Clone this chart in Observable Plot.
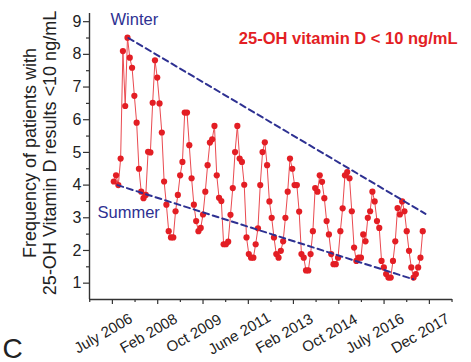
<!DOCTYPE html>
<html><head><meta charset="utf-8">
<script src="https://cdn.jsdelivr.net/npm/d3@7"></script>
<script src="https://cdn.jsdelivr.net/npm/@observablehq/plot@0.6"></script>
<style>
html,body{margin:0;padding:0;background:#fff;}
#chart{width:471px;height:362px;}
</style>
</head><body><div id="chart"></div>
<script>
// Monthly frequency of patients with 25-OH vitamin D < 10 ng/mL (index = month)
const values = [
  4.11, 4.30, 4.00, 4.81, 8.10, 6.42, 8.51, 7.90, 7.59, 6.73,
  5.91, 4.50, 3.80, 3.60, 3.70, 5.02, 5.00, 6.52, 7.82, 7.29,
  6.50, 5.61, 4.11, 3.40, 2.59, 2.40, 2.40, 3.20, 3.70, 4.30,
  4.71, 6.22, 6.22, 5.22, 4.21, 3.40, 2.90, 2.59, 2.69, 3.10,
  3.80, 4.61, 5.30, 5.40, 5.81, 4.30, 3.61, 3.51, 2.19, 2.19,
  2.27, 3.09, 3.91, 5.01, 5.81, 4.81, 4.71, 4.01, 2.40, 1.89,
  1.78, 1.78, 2.19, 2.68, 4.00, 5.01, 5.31, 4.61, 3.50, 3.00,
  2.40, 1.89, 1.78, 1.99, 2.28, 3.00, 3.80, 4.81, 4.50, 4.00,
  4.00, 3.19, 1.89, 1.78, 1.39, 1.39, 1.89, 2.59, 3.91, 3.80,
  4.30, 4.10, 3.60, 2.90, 2.49, 1.89, 1.58, 1.58, 1.78, 2.59,
  3.29, 4.30, 4.40, 4.21, 3.20, 2.09, 1.68, 1.78, 1.78, 2.49,
  2.28, 3.00, 3.20, 3.80, 3.50, 2.90, 2.69, 1.68, 1.48, 1.28,
  1.17, 1.17, 1.68, 2.28, 3.30, 3.10, 3.50, 3.20, 2.59, 1.99,
  1.48, 1.17, 1.28, 1.48, 1.78, 2.59
];
const tickLabels = ["July 2006", "Feb 2008", "Oct 2009", "June 2011", "Feb 2013", "Oct 2014", "July 2016", "Dec 2017"];
const tickPositions = [-0.6, 19.2, 39.0, 58.8, 78.5, 98.3, 118.1, 137.9];
const minorXTicks = [-10.5, 9.3, 29.1, 48.9, 68.7, 88.4, 108.2, 128.0, 147.8];
const yMajorTicks = [1, 2, 3, 4, 5, 6, 7, 8, 9];
const yMinorTicks = [1.5, 2.5, 3.5, 4.5, 5.5, 6.5, 7.5, 8.5];
const winterTrend = [{i: 6.4, v: 8.5}, {i: 136.2, v: 3.12}];
const summerTrend = [{i: 1.6, v: 4.0}, {i: 130.8, v: 1.12}];

const data = values.map((v, i) => ({i, v}));
const xDom = [-10.6, 148];
const yDom = [0.5, 9.25];
const axisColor = "#333";
const navy = "#2e3192";
const red = "#e31e24";
const font = "Liberation Sans, Arial, Helvetica, sans-serif";

const plot = Plot.plot({
  width: 471, height: 362,
  marginLeft: 89, marginRight: 19, marginTop: 13, marginBottom: 63,
  style: {fontFamily: font, background: "white", color: "#222", overflow: "visible"},
  x: {domain: xDom, axis: null, label: null},
  y: {domain: yDom, axis: null, label: null},
  marks: [
    Plot.line(data, {x: "i", y: "v", stroke: "#ea4a50", strokeWidth: 1}),
    Plot.dot(data, {x: "i", y: "v", r: 3.1, fill: red, stroke: "none"}),
    Plot.line(winterTrend, {x: "i", y: "v", stroke: navy, strokeWidth: 2, strokeDasharray: "6,4"}),
    Plot.line(summerTrend, {x: "i", y: "v", stroke: navy, strokeWidth: 2, strokeDasharray: "6,4"}),
    Plot.ruleX([xDom[0]], {y1: yDom[0], y2: yDom[1], stroke: axisColor, strokeWidth: 1.4}),
    Plot.ruleY([yDom[0]], {x1: xDom[0], x2: xDom[1], stroke: axisColor, strokeWidth: 1.4}),
    Plot.axisY(yMajorTicks, {tickSize: 6, tickPadding: 2, fontSize: 16, label: null, stroke: axisColor, strokeWidth: 1.2, fill: "#222"}),
    Plot.axisY(yMinorTicks, {tickSize: 3, tickFormat: () => "", label: null, stroke: axisColor, strokeWidth: 1.2}),
    Plot.axisX(tickPositions, {tickSize: 5, tickFormat: () => "", label: null, stroke: axisColor, strokeWidth: 1.2}),
    Plot.axisX(minorXTicks, {tickSize: 3, tickFormat: () => "", label: null, stroke: axisColor, strokeWidth: 1.2}),
    Plot.text(tickLabels, {x: (d, k) => tickPositions[k], text: d => d, frameAnchor: "bottom", rotate: -30, dx: -9, dy: 34, fontSize: 15, fill: "#222", textAnchor: "middle", lineAnchor: "middle"}),
    Plot.text(["Frequency of patients with\n25-OH Vitamin D results <10 ng/mL"], {frameAnchor: "left", dx: -50, dy: -3.5, rotate: -90, fontSize: 18, lineHeight: 1.11, fill: "#222", textAnchor: "middle", lineAnchor: "middle"}),
    Plot.text(["Winter"], {frameAnchor: "top-left", dx: 21, dy: 11, fontSize: 16.5, fill: navy, textAnchor: "start", lineAnchor: "bottom"}),
    Plot.text(["Summer"], {frameAnchor: "top-left", dx: 8, dy: 204, fontSize: 16.5, fill: navy, textAnchor: "start", lineAnchor: "bottom"}),
    Plot.text(["25-OH vitamin D < 10 ng/mL"], {frameAnchor: "top-right", dx: 5, dy: 30, fontSize: 16.5, fontWeight: "bold", fill: red, textAnchor: "end", lineAnchor: "bottom"}),
    Plot.text(["C"], {frameAnchor: "bottom-left", dx: -87, dy: 58, fontSize: 28, fill: "#222", textAnchor: "start", lineAnchor: "bottom"})
  ]
});
document.getElementById("chart").append(plot);
</script>
</body></html>
